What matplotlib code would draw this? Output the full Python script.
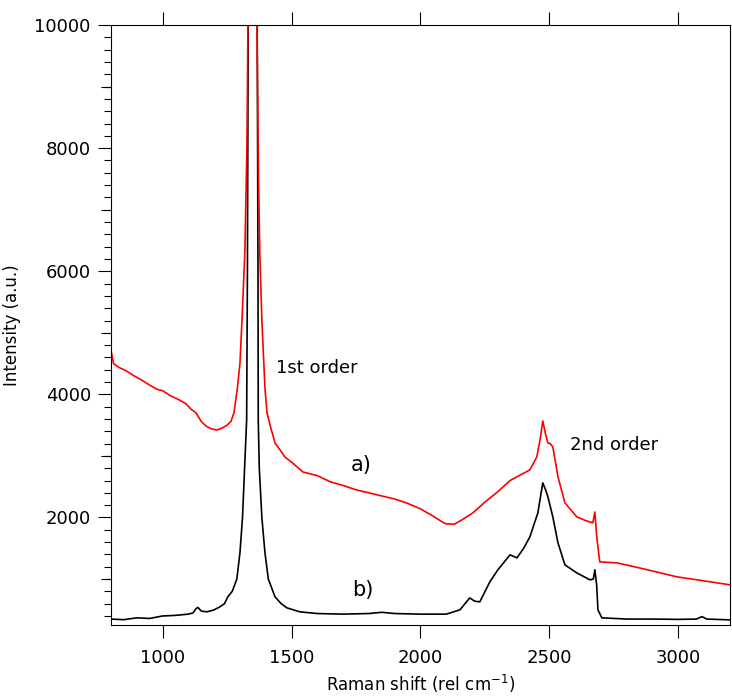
import numpy as np
import matplotlib
matplotlib.use("Agg")
import matplotlib.pyplot as plt
from matplotlib.ticker import MultipleLocator, FixedLocator, NullFormatter

# spectrum a) (red)
red_x = [800, 810, 830, 860, 890, 920, 950, 980, 1000, 1030, 1060, 1090, 1110,
         1130, 1150, 1170, 1190, 1210, 1230, 1250, 1265, 1277, 1290, 1300, 1308,
         1319, 1327, 1331, 1340, 1349, 1358, 1366, 1372, 1377, 1385, 1397, 1405,
         1420, 1436, 1455, 1474, 1500, 1544, 1600, 1650, 1700, 1750, 1800, 1850,
         1900, 1950, 2000, 2050, 2095, 2130, 2160, 2203, 2250, 2300, 2347, 2400,
         2424, 2451, 2465, 2474, 2485, 2494, 2503, 2513, 2533, 2560, 2606, 2640,
         2668, 2676, 2683, 2695, 2761, 2850, 2994, 3100, 3200]
red_y = [4720, 4500, 4440, 4380, 4300, 4230, 4150, 4080, 4060, 3980, 3920, 3850, 3760,
         3700, 3560, 3480, 3440, 3420, 3450, 3500, 3560, 3700, 4100, 4500, 5210,
         6297, 8000, 10000, 12500, 13000, 12500, 10000, 7500, 6297, 5210, 4100, 3700,
         3450, 3210, 3100, 2984, 2900, 2740, 2680, 2580, 2520, 2450, 2400, 2350,
         2300, 2230, 2140, 2020, 1900, 1890, 1960, 2075, 2250, 2420, 2600, 2720,
         2773, 2984, 3300, 3569, 3350, 3210, 3200, 3147, 2660, 2237, 2010, 1950,
         1913, 2090, 1700, 1279, 1263, 1180, 1036, 970, 906]

# spectrum b) (black)
blk_x = [800, 850, 900, 950, 1000, 1050, 1100, 1118, 1130, 1137, 1150, 1172, 1200,
         1222, 1240, 1253, 1270, 1288, 1300, 1310, 1318, 1326, 1329, 1332, 1340,
         1349, 1358, 1367, 1370, 1371, 1375, 1385, 1397, 1410, 1436, 1460, 1482,
         1533, 1600, 1700, 1800, 1850, 1900, 2000, 2100, 2153, 2191, 2210, 2230,
         2269, 2300, 2347, 2374, 2400, 2424, 2455, 2474, 2485, 2494, 2513, 2533,
         2560, 2606, 2657, 2670, 2676, 2683, 2688, 2703, 2800, 2900, 3000, 3070,
         3091, 3110, 3200]
blk_y = [350, 340, 370, 360, 400, 410, 430, 450, 520, 540, 480, 467, 500,
         548, 600, 711, 800, 1000, 1425, 2000, 2800, 3585, 6000, 10000, 13000,
         14000, 13000, 10000, 6000, 3585, 2800, 2000, 1425, 1000, 711, 600, 532,
         467, 440, 430, 440, 460, 440, 430, 430, 500, 694, 640, 630,
         955, 1150, 1393, 1344, 1500, 1685, 2075, 2562, 2450, 2335, 2010, 1588,
         1230, 1100, 987, 1000, 1150, 900, 500, 370, 350, 350, 345, 350,
         390, 350, 337]

fig = plt.figure(figsize=(7.32, 6.99), dpi=100)
ax = fig.add_axes([0.1516, 0.1059, 0.8457, 0.8583])

ax.plot(blk_x, blk_y, c='k', lw=1.2)
ax.plot(red_x, red_y, c='r', lw=1.2)

ax.set_xlim(800, 3200)
ax.set_ylim(254, 10000)

ax.xaxis.set_major_locator(MultipleLocator(500))
ax.yaxis.set_major_locator(MultipleLocator(2000))
ax.yaxis.set_minor_locator(MultipleLocator(200))

for s in ax.spines.values():
    s.set_linewidth(0.8)

ax.tick_params(axis='x', which='major', direction='out', top=True, length=9.5,
               width=0.8, pad=8, labelsize=13)
ax.tick_params(axis='y', which='major', direction='out', right=False, length=9.5,
               width=0.8, pad=5, labelsize=13)
ax.tick_params(axis='y', which='minor', direction='out', right=False, length=5,
               width=0.8)

# medium ticks at the odd thousands
sec = ax.secondary_yaxis('left')
sec.yaxis.set_major_locator(FixedLocator([1000, 3000, 5000, 7000, 9000]))
sec.yaxis.set_major_formatter(NullFormatter())
sec.tick_params(axis='y', direction='out', length=7.5, width=0.8)
sec.spines['left'].set_visible(False)

ax.set_xlabel("Raman shift (rel cm$^{-1}$)", fontsize=12, labelpad=4)
ax.set_ylabel("Intensity (a.u.)", fontsize=12, labelpad=10)

ax.text(1440, 4430, "1st order", fontsize=13, va='center', ha='left')
ax.text(2579, 3179, "2nd order", fontsize=13, va='center', ha='left')
ax.text(1730, 2854, "a)", fontsize=15, va='center', ha='left')
ax.text(1734, 824, "b)", fontsize=15, va='center', ha='left')

fig.savefig("out.png", dpi=100)
